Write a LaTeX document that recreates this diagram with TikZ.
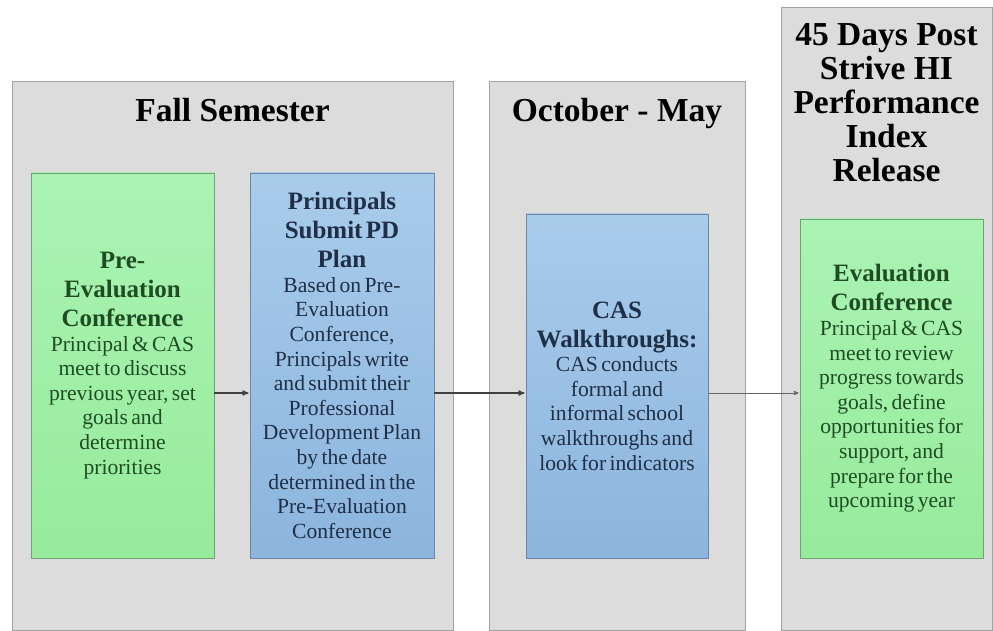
\documentclass[tikz,border=0pt]{standalone}
\usepackage{fontspec}
\setmainfont{Liberation Serif}
\usetikzlibrary{arrows,positioning}

\definecolor{panelfill}{HTML}{DCDCDC}
\definecolor{panelline}{HTML}{A3A3A3}
\definecolor{greentop}{HTML}{AAF3B4}
\definecolor{greenbot}{HTML}{97EB9C}
\definecolor{greenline}{HTML}{72A077}
\definecolor{bluetop}{HTML}{A9CCEB}
\definecolor{bluebot}{HTML}{8CB4DD}
\definecolor{blueline}{HTML}{6E86A4}
\definecolor{greentext}{HTML}{1F4D22}
\definecolor{bluetext}{HTML}{1E2F47}

\newcommand{\boxhead}[1]{{\fontsize{25}{29}\selectfont\bfseries #1\par}}
\newcommand{\boxbody}[1]{{\fontsize{21.6}{24.6}\selectfont #1\par}}

\begin{document}
\begin{tikzpicture}[x=1pt,y=-1pt,>=stealth',shorten >=1pt,semithick,
  panel/.style={draw=panelline,fill=panelfill,line width=1pt,inner sep=0pt},
  paneltitle/.style={inner sep=0pt,align=center,
    font=\fontsize{33.5}{34}\selectfont\bfseries},
  greenbox/.style={draw=greenline,top color=greentop,bottom color=greenbot,
    line width=0.8pt,text width=178pt,align=center,inner sep=2pt,text=greentext},
  bluebox/.style={draw=blueline,top color=bluetop,bottom color=bluebot,
    line width=0.8pt,text width=178pt,align=center,inner sep=2pt,text=bluetext},
  flow/.style={->,draw=black!75,line width=1.2pt}]

  \useasboundingbox (0,0) rectangle (993,631);

  % time columns
  \node[panel,minimum width=441pt,minimum height=548pt] (fall) at (232.5,356) {};
  \node[panel,minimum width=256pt,minimum height=548pt] (octmay) at (617,356) {};
  \node[panel,minimum width=211pt,minimum height=622pt] (release) at (886.5,319) {};

  \node[paneltitle,below=16pt of fall.north] (falltitle) {Fall Semester};
  \node[paneltitle,below=16pt of octmay.north] (octmaytitle) {October - May};
  \node[paneltitle,below=16pt of release.north] (releasetitle)
    {45 Days Post\\Strive HI\\Performance\\Index\\Release};

  % steps
  \node[greenbox,minimum width=183pt,minimum height=385pt] (pre) at (122.5,365.5)
    {\boxhead{Pre-\\Evaluation\\Conference}%
     \boxbody{Principal \& CAS\\meet to discuss\\previous year, set\\goals and\\determine\\priorities}};
  \node[bluebox,minimum width=184pt,minimum height=385pt] (plan) at (342,365.5)
    {\boxhead{Principals\\Submit PD\\Plan}%
     \boxbody{Based on Pre-\\Evaluation\\Conference,\\Principals write\\and submit their\\Professional\\Development Plan\\by the date\\determined in the\\Pre-Evaluation\\Conference}};
  \node[bluebox,minimum width=182pt,minimum height=344pt] (walk) at (617,386)
    {\boxhead{CAS\\Walkthroughs:}%
     \boxbody{CAS conducts\\formal and\\informal school\\walkthroughs and\\look for indicators}};
  \node[greenbox,minimum width=183pt,minimum height=339pt] (evalconf) at (891.5,388.5)
    {\boxhead{Evaluation\\Conference}%
     \boxbody{Principal \& CAS\\meet to review\\progress towards\\goals, define\\opportunities for\\support, and\\prepare for the\\upcoming year}};

  \coordinate (flowline) at (0,393);
  \draw[flow] (pre.east |- flowline) -- (plan.west |- flowline);
  \draw[flow] (plan.east |- flowline) -- (walk.west |- flowline);
  \draw[flow,line width=0.8pt,draw=black!60] (walk.east |- flowline) -- (evalconf.west |- flowline);
\end{tikzpicture}
\end{document}
